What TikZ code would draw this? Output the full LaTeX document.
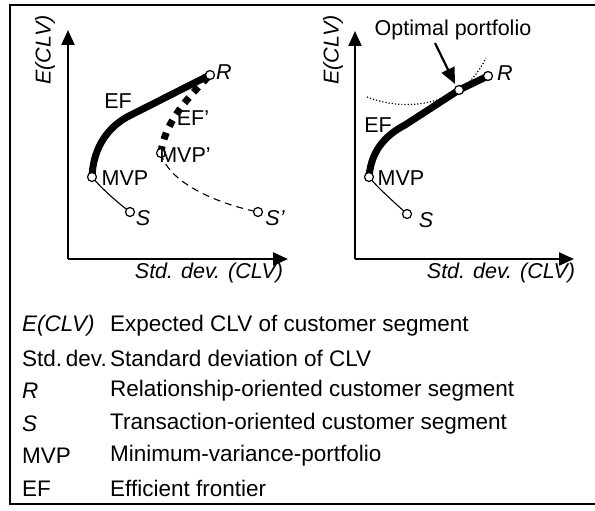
\documentclass[tikz,border=0pt]{standalone}
\usepackage{fontspec}
\setmainfont{Liberation Sans}
\usetikzlibrary{arrows.meta}
\begin{document}
\begin{tikzpicture}[x=1pt,y=-1pt,
  lbl/.style={font=\fontsize{21.5}{25}\selectfont, inner sep=0pt},
  ilbl/.style={font=\fontsize{21.5}{25}\selectfont\itshape, inner sep=0pt},
  leg/.style={font=\fontsize{22.5}{26}\selectfont, inner sep=0pt, anchor=west},
  ileg/.style={font=\fontsize{22.5}{26}\selectfont\itshape, inner sep=0pt, anchor=west},
  dot/.style={circle, draw, fill=white, line width=1.2pt, inner sep=0pt, minimum size=9pt},
  axis/.style={line width=2.2pt, -{Triangle[length=15pt,width=13pt]}},
  frontier/.style={line width=7pt},
  thinc/.style={line width=1.1pt},
]
\useasboundingbox (0,0) rectangle (595,511);
% frame
\draw[line width=1.6pt] (595,5) -- (10,5) -- (10,504) -- (595,504);

% ---------- left panel ----------
\coordinate (LO) at (68,259);
\coordinate (LY) at (68,30);
\coordinate (LX) at (288,259);
\draw[axis] (LO) -- (LY);
\draw[axis] (LO) -- (LX);
\node[ilbl, rotate=90] (ly) at (45,50) {E(CLV)};
\node[ilbl] (lx) at (209,273) {Std. dev. (CLV)};

\coordinate (R1) at (210,75);
\coordinate (S1) at (130,212);
\coordinate (M1) at (92,177);
\coordinate (M1p) at (161,153);
\coordinate (S1p) at (258,212);

\draw[frontier] (M1) .. controls (93,152) and (104,130) .. (127,117) -- (R1);
\draw[thinc] (M1) .. controls (102,189) and (117,202) .. (S1);
\draw[thinc, dash pattern=on 7pt off 5pt] (M1p) .. controls (168,182) and (215,203) .. (S1p);
\draw[frontier, dash pattern=on 7pt off 7pt] (M1p) .. controls (164,125) and (185,100) .. (R1);

\node[dot] (nR1) at (R1) {};
\node[dot] (nS1) at (S1) {};
\node[dot] (nM1) at (M1) {};
\node[dot] (nM1p) at (M1p) {};
\node[dot] (nS1p) at (S1p) {};

\node[ilbl] (tR1) at (224,72) {R};
\node[ilbl] (tS1) at (143,218) {S};
\node[lbl] (tM1) at (125,178) {MVP};
\node[lbl] (tM1p) at (185,155) {MVP'};
\node[ilbl] (tS1p) at (275,218) {S'};
\node[lbl] (tEF1) at (118,101) {EF};
\node[lbl] (tEF1p) at (193,118) {EF'};

% ---------- right panel ----------
\coordinate (RO) at (355,259);
\coordinate (RY) at (355,31);
\coordinate (RX) at (574,259);
\draw[axis] (RO) -- (RY);
\draw[axis] (RO) -- (RX);
\node[ilbl, rotate=90] (ry) at (333,50) {E(CLV)};
\node[ilbl] (rx) at (501,273) {Std. dev. (CLV)};

\coordinate (R2) at (488,76);
\coordinate (S2) at (407,214);
\coordinate (M2) at (369,177);
\coordinate (OP) at (459,90);

\draw[line width=1.2pt, dotted] (367,97) .. controls (395,108) and (430,108) .. (OP) .. controls (470,83) and (479,72) .. (486,58);
\draw[frontier] (M2) .. controls (371,152) and (384,136) .. (405,125) -- (OP) -- (R2);
\draw[thinc] (M2) .. controls (379,189) and (394,202) .. (S2);

\node[dot] (nR2) at (R2) {};
\node[dot] (nS2) at (S2) {};
\node[dot] (nM2) at (M2) {};
\node[dot] (nOP) at (OP) {};

\node[lbl] (opt) at (453,30) {Optimal portfolio};
\coordinate (arrS) at (435,43);
\draw[line width=2.2pt, -{Triangle[length=16pt,width=14pt]}] (arrS) -- (455,84);

\node[ilbl] (tR2) at (505,73) {R};
\node[ilbl] (tS2) at (426,220) {S};
\node[lbl] (tM2) at (401,178) {MVP};
\node[lbl] (tEF2) at (378,125) {EF};

% ---------- legend ----------
\node[ileg] (k1) at (22,326) {E(CLV)};
\node[leg] (v1) at (110,326) {Expected CLV of customer segment};
\node[leg] (k2) at (22,358.5) {Std.\,dev.};
\node[leg] (v2) at (110,358.5) {Standard deviation of CLV};
\node[ileg] (k3) at (22,391) {R};
\node[leg] (v3) at (110,391) {Relationship-oriented customer segment};
\node[ileg] (k4) at (22,423.5) {S};
\node[leg] (v4) at (110,423.5) {Transaction-oriented customer segment};
\node[leg] (k5) at (22,456) {MVP};
\node[leg] (v5) at (110,456) {Minimum-variance-portfolio};
\node[leg] (k6) at (22,488.5) {EF};
\node[leg] (v6) at (110,488.5) {Efficient frontier};
\end{tikzpicture}
\end{document}
